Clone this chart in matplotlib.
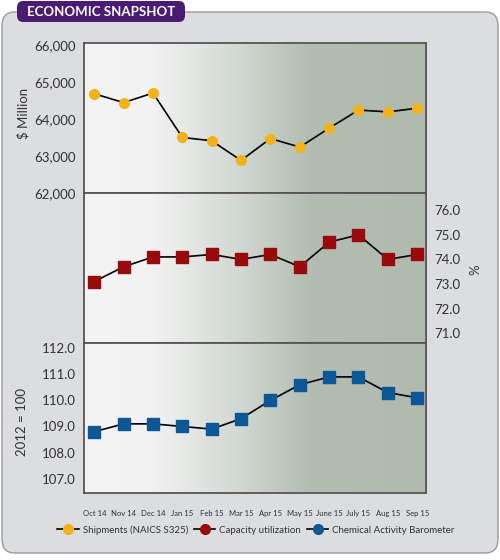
import numpy as np
import matplotlib
matplotlib.use("Agg")
import matplotlib.pyplot as plt
from matplotlib.patches import FancyBboxPatch
from matplotlib.colors import LinearSegmentedColormap
from matplotlib.lines import Line2D
from matplotlib.ticker import FuncFormatter

plt.rcParams['font.family'] = ['Lato', 'DejaVu Sans']

# data
months = ["Oct 14", "Nov 14", "Dec 14", "Jan 15", "Feb 15", "Mar 15", "Apr 15",
          "May 15", "June 15", "July 15", "Aug 15", "Sep 15"]
shipments = [64680, 64440, 64700, 63500, 63410, 62880, 63470, 63240, 63750,
             64240, 64190, 64290]
capacity = [73.1, 73.7, 74.1, 74.1, 74.2, 74.0, 74.2, 73.7, 74.7, 75.0, 74.0, 74.2]
cab = [108.8, 109.1, 109.1, 109.0, 108.9, 109.3, 110.0, 110.6, 110.9, 110.9,
       110.3, 110.1]

ship_ticks = [62000, 63000, 64000, 65000, 66000]
cap_ticks = [71.0, 72.0, 73.0, 74.0, 75.0, 76.0]
cab_ticks = [107.0, 108.0, 109.0, 110.0, 111.0, 112.0]

YELLOW = "#f2b21c"
RED = "#990a0c"
BLUE = "#0c5796"
TXT = "#333333"

fig = plt.figure(figsize=(5, 5.6), dpi=100)
fig.patch.set_facecolor("white")

# outer grey panel
panel = FancyBboxPatch((2 / 500, 7 / 560), 496 / 500, 541 / 560,
                       boxstyle="round,pad=0,rounding_size=0.025",
                       transform=fig.transFigure, facecolor="#dcdddf",
                       edgecolor="#9a9a9a", linewidth=1.0, zorder=-2)
fig.patches.append(panel)

# title badge
badge = FancyBboxPatch((17 / 500, 1 - 22 / 560), 168 / 500, 21 / 560,
                       boxstyle="round,pad=0,rounding_size=0.012",
                       transform=fig.transFigure, facecolor="#4b1a72",
                       edgecolor="none", zorder=-1)
fig.patches.append(badge)
fig.text(101 / 500, 1 - 11.5 / 560, "ECONOMIC SNAPSHOT", color="white",
         fontsize=9.5, fontweight="bold", ha="center", va="center")

cmap = LinearSegmentedColormap.from_list(
    "bg", [(0, "#f4f4f4"), (0.2, "#f2f2f2"), (0.45, "#d2d8d2"),
           (0.66, "#b3bdb1"), (1, "#b0bbae")])
grad = np.linspace(0, 1, 256).reshape(1, -1)

left, width, h = 84 / 500, 342 / 500, 150 / 560
bottoms = [1 - 193 / 560, 1 - 343 / 560, 1 - 493 / 560]
axes = [fig.add_axes([left, b, width, h]) for b in bottoms]
x = np.arange(len(months))

for ax in axes:
    ax.imshow(grad, aspect="auto", cmap=cmap, extent=[0, 1, 0, 1],
              transform=ax.transAxes, zorder=0)
    ax.set_xlim(-0.35, 11.3)
    for s in ax.spines.values():
        s.set_color("#555555")
        s.set_linewidth(1.3)
    ax.tick_params(length=0, labelsize=9.5, labelcolor=TXT, pad=6)
    ax.set_xticks([])

ax1, ax2, ax3 = axes
ax1.plot(x, shipments, color="black", lw=1.2, marker="o", ms=7,
         mfc=YELLOW, mec=YELLOW, zorder=3)
ax1.set_ylim(62000, 66050)
ax1.set_yticks(ship_ticks)
ax1.yaxis.set_major_formatter(FuncFormatter(lambda v, p: f"{v:,.0f}"))
ax1.set_ylabel("$ Million", fontsize=9.5, color=TXT)
ax1.yaxis.set_label_coords(-0.16, 0.53)

ax2.plot(x, capacity, color="black", lw=1.2, marker="s", ms=8.5,
         mfc=RED, mec=RED, zorder=3)
ax2.set_ylim(70.6, 76.7)
ax2.set_yticks(cap_ticks)
ax2.yaxis.tick_right()
ax2.yaxis.set_label_position("right")
ax2.yaxis.set_major_formatter(FuncFormatter(lambda v, p: f"{v:.1f}"))
ax2.set_ylabel("%", fontsize=9.5, color=TXT)
ax2.yaxis.set_label_coords(1.126, 0.49)

ax3.plot(x, cab, color="black", lw=1.2, marker="s", ms=8.5,
         mfc=BLUE, mec=BLUE, zorder=3)
ax3.set_ylim(106.45, 112.2)
ax3.set_yticks(cab_ticks)
ax3.yaxis.set_major_formatter(FuncFormatter(lambda v, p: f"{v:.1f}"))
ax3.set_ylabel("2012 = 100", fontsize=9.5, color=TXT)
ax3.yaxis.set_label_coords(-0.163, 0.47)
ax3.set_xticks(x)
ax3.set_xticklabels(months, fontsize=5.5, color=TXT)
ax3.tick_params(axis="x", pad=12)

handles = [Line2D([], [], color="black", lw=1.2, marker="o", ms=7,
                  mfc=c, mec=c) for c in (YELLOW, RED, BLUE)]
fig.legend(handles, ["Shipments (NAICS S325)", "Capacity utilization",
                     "Chemical Activity Barometer"],
           loc="center", bbox_to_anchor=(256 / 500, 1 - 530 / 560), ncol=3,
           frameon=False, fontsize=7, handlelength=2.2, handletextpad=0.4,
           columnspacing=0.6, labelcolor=TXT)

fig.savefig("out.png", dpi=100)
